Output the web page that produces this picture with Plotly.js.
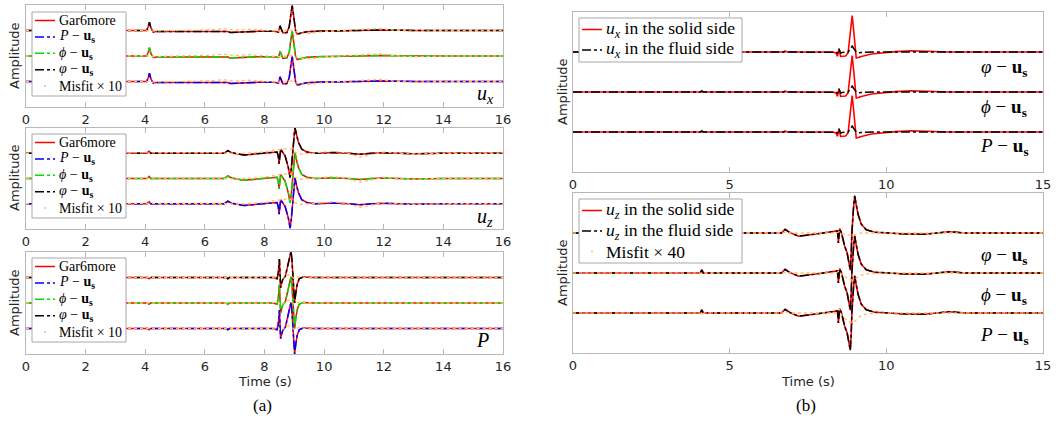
<!DOCTYPE html>
<html><head><meta charset="utf-8">
<script src="https://cdn.plot.ly/plotly-3.0.1.min.js"></script>
<style>html,body{margin:0;padding:0;background:#fff}#c{width:1060px;height:421px}</style>
</head><body><div id="c"></div>
<script>
// ---------- data ----------
const ticksA = [0, 2, 4, 6, 8, 10, 12, 14, 16];
const ticksB = [0, 5, 10, 15];
const offsets = [0, 1, 2]; // P-us (bottom), phi-us (middle), varphi-us (top)

// (a) u_x
const tUx = [0, 4.05, 4.10, 4.14, 4.19, 4.27, 4.4, 5.5, 6.7, 6.77, 6.85, 7.2, 7.8, 8.3, 8.44, 8.47, 8.52, 8.57, 8.62, 8.75, 8.83, 8.88, 8.93, 8.98, 9.04, 9.10, 9.2, 9.42, 9.7, 10.0, 11, 12, 13, 16];
const ux  = [0, 0, 0.15, 0.33, 0.1, -0.06, -0.04, -0.03, -0.02, -0.04, -0.08, -0.06, -0.03, -0.03, -0.08, -0.06, 0.18, 0.0, -0.1, -0.08, 0.15, 0.6, 0.98, 0.55, 0.0, -0.14, -0.12, -0.05, -0.03, -0.02, 0.01, 0.02, 0.0, 0];
const tMisUx = [0, 3, 4, 4.2, 5.5, 6.2, 6.6, 7.0, 7.5, 8.0, 8.5, 8.9, 9.2, 9.5, 10, 10.8, 11.5, 11.9, 12.3, 13, 14, 16];
const misUx  = [0, 0, 0.01, -0.02, 0, 0.03, 0.07, 0.02, 0.05, 0.01, -0.03, 0.02, -0.1, -0.12, -0.04, 0.02, 0.05, 0.08, 0.02, -0.03, 0, 0];

// (a) u_z
const tUz = [0, 4.05, 4.10, 4.13, 4.18, 4.3, 6.65, 6.77, 6.9, 7.3, 7.8, 8.2, 8.42, 8.46, 8.49, 8.54, 8.62, 8.69, 8.8, 8.86, 8.9, 8.94, 8.98, 9.02, 9.07, 9.14, 9.25, 9.42, 9.7, 10.3, 10.8, 11.2, 11.6, 12.0, 12.5, 13.0, 14, 16];
const uz  = [0, 0, 0.04, 0.08, 0.0, 0, 0, 0.1, 0.02, -0.07, -0.02, 0.03, 0.05, -0.1, -0.41, 0.16, 0.02, -0.1, -0.57, -0.97, -0.6, 0, 0.6, 1.03, 0.75, 0.43, 0.16, 0.05, 0.0, 0.03, 0.0, -0.04, 0.0, 0.02, 0.0, -0.02, 0, 0];
const tMisUz = [0, 4, 6.5, 7, 7.5, 8.0, 8.3, 8.6, 8.85, 9.0, 9.2, 9.6, 10.3, 10.8, 11.2, 11.6, 12.0, 12.5, 13, 14, 16];
const misUz  = [0, 0, 0.02, -0.02, 0, 0.05, 0.12, 0.15, 0.2, 0.05, -0.03, 0, 0.08, 0, -0.15, -0.05, 0.05, 0, -0.03, 0, 0];

// (a) P
const tP = [0, 4.08, 4.13, 4.18, 6.72, 6.77, 6.82, 8.3, 8.42, 8.46, 8.5, 8.54, 8.58, 8.62, 8.7, 8.8, 8.85, 8.89, 8.92, 8.95, 8.98, 9.01, 9.05, 9.1, 9.17, 9.3, 9.6, 16];
const pr = [0, 0, -0.05, 0, 0, -0.05, 0, 0, -0.05, 0.15, 0.72, -0.4, -0.2, -0.05, 0.05, 0.52, 0.85, 1.03, 0.7, 0.0, -0.6, -1.0, -0.6, -0.25, -0.04, 0.02, 0, 0];
const tMisP = [0, 8.2, 8.45, 8.55, 8.7, 8.85, 9.0, 9.15, 9.4, 16];
const misP  = [0, 0, 0.05, -0.08, 0.05, 0.12, -0.05, 0.04, 0, 0];

// (b) u_x solid / fluid
const tBx = [0, 4.06, 4.11, 4.16, 6.72, 6.77, 6.85, 8.3, 8.40, 8.44, 8.49, 8.54, 8.6, 8.7, 8.78, 8.84, 8.88, 8.91, 8.95, 8.98, 9.04, 9.1, 9.2, 9.52, 9.84, 10.3, 10.8, 11.3, 12, 15];
const bxSolid = [0, 0, 0.01, 0, 0, 0.02, 0.0, 0, -0.03, -0.11, 0.08, -0.11, -0.1, -0.1, -0.02, 0.4, 0.8, 0.91, 0.6, 0.3, -0.15, -0.14, -0.11, -0.05, -0.025, 0.01, 0.03, 0.02, 0, 0];
const bxFluid = [0, 0, 0.03, 0, 0, 0.01, 0, 0, -0.01, -0.03, 0.08, -0.03, -0.01, 0.0, 0.0, 0.07, 0.13, 0.15, 0.1, 0.07, 0.0, -0.02, -0.01, 0, 0, 0, 0, 0, 0, 0];

// (b) u_z solid (fluid overlaps it)
const tBz = [0, 4.06, 4.11, 4.16, 6.65, 6.77, 6.9, 7.2, 7.8, 8.2, 8.44, 8.47, 8.51, 8.57, 8.67, 8.75, 8.81, 8.85, 8.88, 8.9, 8.95, 8.99, 9.04, 9.1, 9.2, 9.36, 9.63, 10.0, 10.5, 11.2, 11.6, 12.0, 12.5, 15];
const bzSolid = [0, 0, 0.08, 0, 0, 0.09, 0.02, -0.08, -0.02, 0.03, 0.05, -0.25, 0.11, 0.0, -0.33, -0.5, -0.71, -0.93, -0.5, 0.0, 0.6, 0.93, 0.7, 0.46, 0.22, 0.08, 0.02, 0, -0.02, -0.03, 0, 0.03, 0, 0];
const bzFluid = [0, 0, 0.08, 0, 0, 0.09, 0.02, -0.08, -0.02, 0.03, 0.05, -0.25, 0.11, 0.0, -0.33, -0.5, -0.71, -0.93, -0.5, 0.0, 0.6, 0.93, 0.7, 0.46, 0.22, 0.08, 0.02, 0, -0.02, -0.03, 0, 0.03, 0, 0];
const tMisBz = [0, 4.05, 4.11, 4.18, 6.7, 6.8, 7.0, 8.4, 8.5, 8.56, 8.65, 8.8, 8.92, 9.05, 9.2, 9.4, 10, 15];
const misBzVarphi = [0, 0, 0, 0, 0, 0.02, 0, 0, 0.03, -0.02, -0.03, -0.05, -0.06, -0.03, 0, 0, 0, 0];
const misBzPhi    = [0, 0, -0.02, 0, 0, 0.02, 0, 0, 0.06, -0.03, -0.08, -0.15, -0.18, -0.12, -0.05, -0.02, 0, 0];
const misBzP      = [0, 0, -0.07, 0, 0, 0.02, 0, 0, 0.1, -0.05, -0.12, -0.22, -0.25, -0.15, -0.06, -0.02, 0, 0];

// legend labels
const US = ' − <b>u</b><sub><b>s</b></sub>';
const legendA = ['Gar6more', '<i>P</i>' + US, '<i>ϕ</i>' + US, '<i>φ</i>' + US, 'Misfit × 10'];
const legendBx = ['<i>u</i><sub><i>x</i></sub> in the solid side', '<i>u</i><sub><i>x</i></sub> in the fluid side'];
const legendBz = ['<i>u</i><sub><i>z</i></sub> in the solid side', '<i>u</i><sub><i>z</i></sub> in the fluid side', 'Misfit × 40'];

// ---------- styling ----------
const RED = '#ff0000', BLUE = '#0000ff', GREEN = '#00e000', BLACK = '#000000', ORANGE = '#fdbf66';
const methodColors = [BLUE, GREEN, BLACK];
const shift = (arr, o) => arr.map(v => v + o);

const traces = [];
function line(x, y, ax, color, dash, width) {
  traces.push({x: x, y: y, xaxis: 'x' + ax, yaxis: 'y' + ax, type: 'scatter', mode: 'lines',
    line: {color: color, dash: dash, width: width}, showlegend: false, hoverinfo: 'skip'});
}

// panel (a)
const panelA = [
  {ax: '', t: tUx, v: ux, tm: tMisUx, m: misUx},
  {ax: '2', t: tUz, v: uz, tm: tMisUz, m: misUz},
  {ax: '3', t: tP, v: pr, tm: tMisP, m: misP}
];
panelA.forEach(p => {
  offsets.forEach(o => line(p.t, shift(p.v, o), p.ax, RED, 'solid', 1.5));
  offsets.forEach((o, i) => line(p.t, shift(p.v, o), p.ax, methodColors[i], 'dashdot', 1.5));
  offsets.forEach(o => line(p.tm, shift(p.m, o), p.ax, ORANGE, 'dot', 1.3));
});

// panel (b)
offsets.forEach(o => line(tBx, shift(bxSolid, o), '4', RED, 'solid', 1.6));
offsets.forEach(o => line(tBx, shift(bxFluid, o), '4', BLACK, 'dashdot', 1.5));
offsets.forEach(o => line(tBz, shift(bzSolid, o), '5', RED, 'solid', 1.6));
offsets.forEach(o => line(tBz, shift(bzFluid, o), '5', BLACK, 'dashdot', 1.5));
const misB = [misBzP, misBzPhi, misBzVarphi];
offsets.forEach((o, i) => line(tMisBz, shift(misB[i], o), '5', ORANGE, 'dot', 1.3));

// ---------- layout ----------
const W = 1060, H = 421;
const px = v => v / W, py = v => 1 - v / H;
const FRAME = '#b8b8b8';
const tickFont = {family: 'DejaVu Sans', size: 13, color: '#262626'};
function xax(x0, x1, range, tv, anchor) {
  return {domain: [px(x0), px(x1)], range: range, tickvals: tv, ticks: 'inside', ticklen: 5,
    tickcolor: FRAME, showline: true, linecolor: FRAME, linewidth: 1, mirror: 'ticks',
    showgrid: false, zeroline: false, tickfont: tickFont, anchor: anchor, fixedrange: true};
}
function yax(y0, y1, anchor) {
  return {domain: [py(y1), py(y0)], range: [-1, 3], showticklabels: false, ticks: '',
    showline: true, linecolor: FRAME, linewidth: 1, mirror: true, showgrid: false,
    zeroline: false, anchor: anchor, fixedrange: true};
}

const serif = (s) => ({family: 'Liberation Serif', size: s, color: '#000'});
const annotations = [];
const shapes = [];
function ann(x, y, text, font, extra) {
  annotations.push(Object.assign({xref: 'paper', yref: 'paper', x: px(x), y: py(y), text: text,
    showarrow: false, font: font, xanchor: 'center', yanchor: 'middle'}, extra || {}));
}
const sans = {family: 'DejaVu Sans', size: 13, color: '#262626'};

// legend boxes drawn as paper shapes + texts
function legendBox(x0, y0, x1, y1, labels, styles, yc, fs) {
  shapes.push({type: 'rect', xref: 'paper', yref: 'paper', x0: px(x0), x1: px(x1), y0: py(y1), y1: py(y0),
    fillcolor: '#ffffff', line: {color: '#a8a8a8', width: 1}, layer: 'above'});
  labels.forEach((lab, i) => {
    const s = styles[i], yy = yc[i];
    if (s.dot) {
      shapes.push({type: 'circle', xref: 'paper', yref: 'paper', x0: px(x0 + 12), x1: px(x0 + 14),
        y0: py(yy + 1), y1: py(yy - 1), fillcolor: s.color, line: {width: 0}, layer: 'above'});
    } else {
      shapes.push({type: 'line', xref: 'paper', yref: 'paper', x0: px(x0 + 3), x1: px(x0 + 23),
        y0: py(yy), y1: py(yy), line: {color: s.color, width: 1.5, dash: s.dash}, layer: 'above'});
    }
    ann(x0 + 24.5, yy, lab, serif(fs), {xanchor: 'left'});
  });
}
const stylesA = [{color: RED, dash: 'solid'}, {color: BLUE, dash: 'dashdot'}, {color: GREEN, dash: 'dashdot'},
  {color: BLACK, dash: 'dashdot'}, {color: ORANGE, dot: true}];
const stepA = 16.4;
legendBox(32, 12, 126, 96, legendA, stylesA, [0, 1, 2, 3, 4].map(i => 20.5 + i * stepA), 14);
legendBox(32, 134, 126, 218, legendA, stylesA, [0, 1, 2, 3, 4].map(i => 142.5 + i * stepA), 14);
legendBox(32, 258, 126, 342, legendA, stylesA, [0, 1, 2, 3, 4].map(i => 266.5 + i * stepA), 14);
legendBox(579, 18, 742, 62, legendBx, [{color: RED, dash: 'solid'}, {color: BLACK, dash: 'dashdot'}], [29.5, 50], 17.5);
legendBox(579, 199, 742, 263, legendBz, [{color: RED, dash: 'solid'}, {color: BLACK, dash: 'dashdot'}, {color: ORANGE, dot: true}], [210.5, 231, 251.5], 17.5);

ann(14, 56, 'Amplitude', sans, {textangle: -90});
ann(14, 178, 'Amplitude', sans, {textangle: -90});
ann(14, 303, 'Amplitude', sans, {textangle: -90});
ann(562, 92, 'Amplitude', sans, {textangle: -90});
ann(562, 273, 'Amplitude', sans, {textangle: -90});
ann(265, 381, 'Time (s)', sans);
ann(808, 381, 'Time (s)', sans);
ann(262, 405, '(a)', serif(17));
ann(806, 405, '(b)', serif(17));
ann(485, 95, '<i>u</i><sub><i>x</i></sub>', serif(20));
ann(485, 218, '<i>u</i><sub><i>z</i></sub>', serif(20));
ann(482, 340, '<i>P</i>', serif(20));
ann(1004, 68, '<i>φ</i>' + US, serif(19));
ann(1004, 108, '<i>ϕ</i>' + US, serif(19));
ann(1004, 147, '<i>P</i>' + US, serif(19));
ann(1004, 256, '<i>φ</i>' + US, serif(19));
ann(1004, 296, '<i>ϕ</i>' + US, serif(19));
ann(1004, 336, '<i>P</i>' + US, serif(19));

const layout = {
  width: W, height: H, margin: {l: 0, r: 0, t: 0, b: 0}, paper_bgcolor: '#fff', plot_bgcolor: '#fff',
  showlegend: false,
  xaxis: xax(26, 503, [0, 16], ticksA, 'y'),  yaxis: yax(5, 107, 'x'),
  xaxis2: xax(26, 503, [0, 16], ticksA, 'y2'), yaxis2: yax(128, 229, 'x2'),
  xaxis3: xax(26, 503, [0, 16], ticksA, 'y3'), yaxis3: yax(252, 354, 'x3'),
  xaxis4: xax(573, 1043, [0, 15], ticksB, 'y4'), yaxis4: yax(12, 172, 'x4'),
  xaxis5: xax(573, 1043, [0, 15], ticksB, 'y5'), yaxis5: yax(193, 353, 'x5'),
  shapes: shapes, annotations: annotations
};

Plotly.newPlot('c', traces, layout, {staticPlot: true, displayModeBar: false});
</script></body></html>
